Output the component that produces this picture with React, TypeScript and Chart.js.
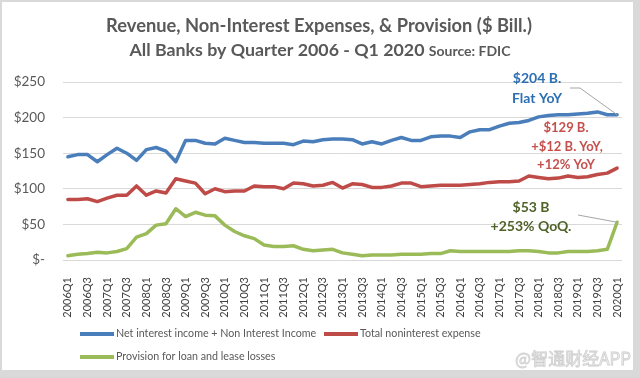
import React, { useEffect, useRef } from "react";
import { Chart, registerables } from "chart.js";

Chart.register(...registerables);

const quarters: string[] = [];
for (let yr = 2006; yr <= 2020; yr++) {
  for (let q = 1; q <= 4; q++) {
    if (yr === 2020 && q > 1) break;
    quarters.push(`${yr}Q${q}`);
  }
}

const revenue = [
  145, 148, 148, 138, 148, 157, 150, 140, 155, 158, 153, 138,
  168, 168, 164, 163, 171, 168, 165, 165, 164, 164, 164, 162,
  167, 166, 169, 170, 170, 169, 163, 166, 163, 168, 172, 168,
  168, 173, 174, 174, 172, 180, 183, 183, 188, 192, 193, 196,
  201, 203, 204, 204, 205, 206, 208, 204, 204,
];
const expense = [
  85, 85, 86, 82, 87, 91, 91, 104, 91, 97, 94, 114,
  111, 108, 93, 100, 96, 97, 97, 104, 103, 103, 100, 108,
  107, 104, 105, 109, 101, 107, 106, 102, 102, 104, 108, 108,
  103, 104, 105, 105, 105, 106, 107, 109, 110, 110, 111, 118,
  116, 114, 115, 118, 116, 117, 120, 122, 129,
];
const provision = [
  6, 8, 9, 11, 10, 12, 16, 32, 37, 49, 51, 72,
  61, 67, 63, 62, 49, 40, 34, 30, 21, 19, 19, 20,
  15, 13, 14, 15, 10, 8, 6, 7, 7, 7, 8, 8,
  8, 9, 9, 13, 12, 12, 12, 12, 12, 12, 13, 13,
  12, 10, 10, 12, 12, 12, 13, 15, 53,
];

const seriesNames = [
  "Net interest income + Non Interest Income",
  "Total noninterest expense",
  "Provision for loan and lease losses",
];
const seriesColors = ["#4a7ebb", "#be4b48", "#9bbb59"];

const titleLine1 = "Revenue, Non-Interest Expenses, & Provision ($ Bill.)";
const titleLine2 = "All Banks by Quarter 2006 - Q1 2020";
const titleSource = "Source: FDIC";
const revNote = ["$204 B.", "Flat YoY"];
const expNote = ["$129 B.", "+$12 B. YoY,", "+12% YoY"];
const provNote = ["$53 B", "+253% QoQ."];
const watermark = "@智通财经APP";

const FONT = "Lato, 'Open Sans', sans-serif";
const GRAY = "#595959";

const decorPlugin = {
  id: "decor",
  beforeDraw(chart: any) {
    const ctx = chart.ctx;
    ctx.save();
    ctx.fillStyle = "#d9d9d9";
    ctx.fillRect(0, 0, chart.width, chart.height);
    ctx.fillStyle = "#ffffff";
    ctx.fillRect(2, 2, 631, 368);
    ctx.restore();
  },
  afterDraw(chart: any) {
    const ctx = chart.ctx;
    ctx.save();
    // Title
    ctx.fillStyle = GRAY;
    ctx.textBaseline = "middle";
    ctx.textAlign = "center";
    ctx.font = `bold 18.3px ${FONT}`;
    ctx.fillText(titleLine1, 319, 26);
    const f2 = `bold 17.8px ${FONT}`;
    const f3 = `bold 14px ${FONT}`;
    ctx.font = f2;
    const w2 = ctx.measureText(titleLine2 + " ").width;
    ctx.font = f3;
    const w3 = ctx.measureText(titleSource).width;
    const start = 320 - (w2 + w3) / 2;
    ctx.textAlign = "left";
    ctx.font = f2;
    ctx.fillText(titleLine2, start, 50);
    ctx.font = f3;
    ctx.fillText(titleSource, start + w2, 51);

    // Legend
    ctx.font = `10.7px ${FONT}`;
    ctx.fillStyle = GRAY;
    const legendItems = [
      { i: 0, x: 80, y: 334 },
      { i: 1, x: 324, y: 334 },
      { i: 2, x: 80, y: 357 },
    ];
    legendItems.forEach(({ i, x, y }) => {
      ctx.strokeStyle = seriesColors[i];
      ctx.lineWidth = 4;
      ctx.beginPath();
      ctx.moveTo(x, y);
      ctx.lineTo(x + 34, y);
      ctx.stroke();
      ctx.fillStyle = GRAY;
      ctx.fillText(seriesNames[i], x + 36, y);
    });

    // Watermark
    ctx.font = `17px 'Noto Sans CJK SC', sans-serif`;
    ctx.textAlign = "right";
    ctx.fillStyle = "#f2f2f2";
    ctx.strokeStyle = "#cfcfcf";
    ctx.lineWidth = 0.8;
    ctx.fillText(watermark, 631, 359);
    ctx.strokeText(watermark, 631, 359);
    ctx.restore();
  },
  afterDatasetsDraw(chart: any) {
    const ctx = chart.ctx;
    const last = quarters.length - 1;
    const p0 = chart.getDatasetMeta(0).data[last];
    const p2 = chart.getDatasetMeta(2).data[last];
    ctx.save();
    // leader lines
    ctx.strokeStyle = "#a6a6a6";
    ctx.lineWidth = 1;
    ctx.beginPath();
    ctx.moveTo(570, 88);
    ctx.lineTo(580, 88);
    ctx.lineTo(p0.x, p0.y);
    ctx.stroke();
    ctx.beginPath();
    ctx.moveTo(578, 215);
    ctx.lineTo(p2.x, p2.y);
    ctx.stroke();

    ctx.textAlign = "center";
    ctx.textBaseline = "middle";
    ctx.font = `bold 14px ${FONT}`;
    ctx.fillStyle = "#2c6fb3";
    ctx.fillText(revNote[0], 537, 78);
    ctx.fillText(revNote[1], 537, 98);

    ctx.font = `bold 13px ${FONT}`;
    ctx.fillStyle = "#c4504d";
    ctx.fillText(expNote[0], 566, 128);
    ctx.fillText(expNote[1], 567, 147);
    ctx.fillText(expNote[2], 566, 165);

    ctx.font = `bold 14px ${FONT}`;
    ctx.fillStyle = "#4f6228";
    ctx.fillText(provNote[0], 531, 207);
    ctx.fillText(provNote[1], 531, 226);
    ctx.restore();
  },
};

export default function App() {
  const ref = useRef<HTMLCanvasElement | null>(null);
  useEffect(() => {
    if (!ref.current) return;
    const mk = (i: number, data: number[]) => ({
      label: seriesNames[i],
      data,
      borderColor: seriesColors[i],
      backgroundColor: seriesColors[i],
      borderWidth: 3.5,
      pointRadius: 0,
      tension: 0,
      fill: false,
      borderJoinStyle: "round" as const,
      borderCapStyle: "round" as const,
    });
    const chart = new Chart(ref.current, {
      type: "line",
      data: {
        labels: quarters,
        datasets: [mk(0, revenue), mk(1, expense), mk(2, provision)],
      },
      options: {
        responsive: false,
        animation: false,
        layout: { padding: { top: 82, right: 18, left: 0, bottom: 0 } },
        plugins: {
          legend: { display: false },
          title: { display: false },
          tooltip: { enabled: false },
        },
        scales: {
          x: {
            type: "category",
            offset: true,
            grid: { display: false },
            border: { display: false },
            ticks: {
              autoSkip: false,
              maxRotation: 90,
              minRotation: 90,
              padding: 9,
              color: "#404040",
              font: { size: 11, family: FONT },
              callback: (_v: any, idx: number) => (idx % 2 === 0 ? quarters[idx] : null),
            },
            afterFit: (scale: any) => {
              scale.height = 118;
            },
          },
          y: {
            min: 0,
            max: 250,
            grid: { color: "#d9d9d9", lineWidth: 1, drawTicks: false },
            border: { display: false },
            ticks: {
              stepSize: 50,
              padding: 18,
              color: GRAY,
              font: { size: 13.5, family: FONT },
              callback: (v: any) => (Number(v) === 0 ? "$-" : `$${v}`),
            },
            afterFit: (scale: any) => {
              scale.width = 63;
            },
          },
        },
      },
      plugins: [decorPlugin],
    });
    return () => chart.destroy();
  }, []);
  return (
    <div style={{ position: "fixed", left: 0, top: 0, width: 640, height: 378 }}>
      <canvas ref={ref} width={640} height={378} style={{ width: 640, height: 378 }} />
    </div>
  );
}
